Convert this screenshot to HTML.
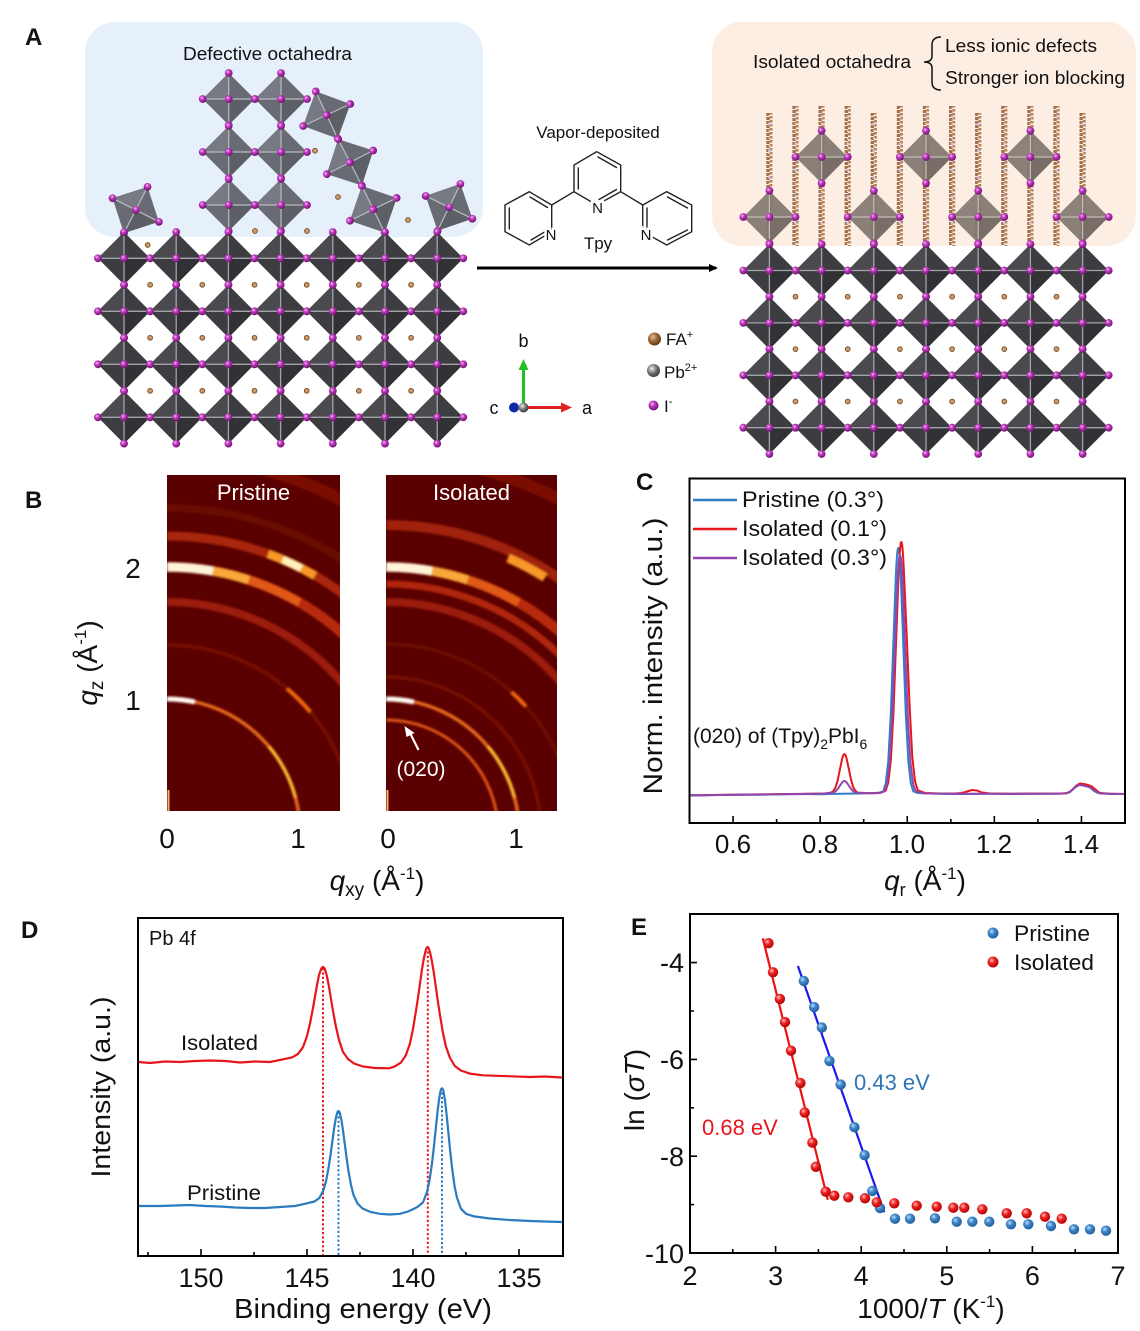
<!DOCTYPE html>
<html><head><meta charset="utf-8"><style>
html,body{margin:0;padding:0;background:#fff}
svg{display:block}
text{font-family:"Liberation Sans",Arial,sans-serif;fill:#111}
</style></head><body>
<svg width="1140" height="1331" viewBox="0 0 1140 1331" xmlns="http://www.w3.org/2000/svg" xmlns:xlink="http://www.w3.org/1999/xlink">
<defs>
<radialGradient id="gI" cx="0.38" cy="0.35" r="0.7"><stop offset="0" stop-color="#f4c0f4"/><stop offset="0.35" stop-color="#c23ec2"/><stop offset="1" stop-color="#6a0b6a"/></radialGradient>
<radialGradient id="gB" cx="0.38" cy="0.35" r="0.7"><stop offset="0" stop-color="#b8dcff"/><stop offset="0.4" stop-color="#3f86c8"/><stop offset="1" stop-color="#1d5a96"/></radialGradient>
<radialGradient id="gR" cx="0.38" cy="0.35" r="0.7"><stop offset="0" stop-color="#ffc0c0"/><stop offset="0.4" stop-color="#ee2222"/><stop offset="1" stop-color="#a80000"/></radialGradient>
<radialGradient id="gFA" cx="0.38" cy="0.35" r="0.7"><stop offset="0" stop-color="#e8c09a"/><stop offset="0.5" stop-color="#9a6232"/><stop offset="1" stop-color="#5a3410"/></radialGradient>
<radialGradient id="gPb" cx="0.38" cy="0.35" r="0.7"><stop offset="0" stop-color="#eeeeee"/><stop offset="0.5" stop-color="#777"/><stop offset="1" stop-color="#333"/></radialGradient>
<g id="at"><circle r="3.9" fill="url(#gI)"/></g>
<g id="fa"><circle r="2.4" fill="#c9996c" stroke="#7a4a20" stroke-width="0.9"/></g>
<g id="oct">
<polygon points="0,-26.3 26.1,0 0,26.3 -26.1,0" fill="#3d3d41"/>
<polygon points="0,-26.3 -26.1,0 0,0" fill="#4a4a4f"/>
<polygon points="0,26.3 26.1,0 0,0" fill="#323236"/>
<path d="M-26.1,0H26.1M0,-26.3V26.3" stroke="#a3a3aa" stroke-width="1.3"/>
<use xlink:href="#at" x="0" y="-26.3"/><use xlink:href="#at" x="0" y="26.3"/><use xlink:href="#at" x="-26.1" y="0"/><use xlink:href="#at" x="26.1" y="0"/><use xlink:href="#at" x="0" y="0"/>
</g>
<g id="octD">
<polygon points="0,-26 26,0 0,26 -26,0" fill="#686b73"/>
<polygon points="0,-26 -26,0 0,0" fill="#777a82"/>
<polygon points="0,26 26,0 0,0" fill="#5c5f66"/>
<path d="M-26,0H26M0,-26V26" stroke="#b8bbc3" stroke-width="1.2"/>
<use xlink:href="#at" x="0" y="-26"/><use xlink:href="#at" x="0" y="26"/><use xlink:href="#at" x="-26" y="0"/><use xlink:href="#at" x="26" y="0"/><use xlink:href="#at" x="0" y="0"/>
</g>
<g id="octI">
<polygon points="0,-26.2 26.1,0 0,26.2 -26.1,0" fill="#81776f" fill-opacity="0.93"/>
<polygon points="0,-26.2 -26.1,0 0,0" fill="#8d837b" fill-opacity="0.9"/>
<polygon points="0,26.2 26.1,0 0,0" fill="#766c65" fill-opacity="0.9"/>
<path d="M-26.1,0H26.1M0,-26.2V26.2" stroke="#c4bcb6" stroke-width="1.2"/>
<use xlink:href="#at" x="0" y="-26.2"/><use xlink:href="#at" x="0" y="26.2"/><use xlink:href="#at" x="-26.1" y="0"/><use xlink:href="#at" x="26.1" y="0"/><use xlink:href="#at" x="0" y="0"/>
</g>
<g id="ch">
<line x1="-1.4" y1="0" x2="-1.4" y2="140" stroke="#a3704a" stroke-width="3.4" stroke-dasharray="3 1"/>
<line x1="1.6" y1="0" x2="1.6" y2="140" stroke="#b5835c" stroke-width="3" stroke-dasharray="2.5 1.5" stroke-dashoffset="1"/>
<line x1="0" y1="2" x2="0" y2="140" stroke="#f2d8cc" stroke-width="1.5" stroke-dasharray="1.5 6"/>
<line x1="0" y1="10" x2="0" y2="140" stroke="#c9c4dc" stroke-width="2.6" stroke-dasharray="2.5 24"/>
</g>
<clipPath id="cpCh"><rect x="700" y="90" width="430" height="156"/></clipPath>
<clipPath id="cpP"><rect x="167" y="475" width="173" height="336"/></clipPath>
<clipPath id="cpI"><rect x="386" y="475" width="171" height="336"/></clipPath>
<filter id="soft" x="-5%" y="-5%" width="110%" height="110%"><feGaussianBlur stdDeviation="1"/></filter>
<marker id="ah" markerWidth="10" markerHeight="10" refX="7" refY="5" orient="auto" markerUnits="userSpaceOnUse"><path d="M0,1 L9,5 L0,9 Z" fill="#000"/></marker>
</defs>

<!-- ================= PANEL A ================= -->
<text x="25" y="45" font-size="24" font-weight="bold">A</text>
<rect x="85" y="22" width="398" height="215" rx="30" fill="#e6f0fa"/>
<text x="267.5" y="60" font-size="18" text-anchor="middle" textLength="169" lengthAdjust="spacingAndGlyphs">Defective octahedra</text>

<use xlink:href="#octD" x="228.7" y="99"/><use xlink:href="#octD" x="281" y="99"/>
<use xlink:href="#octD" x="228.7" y="152"/><use xlink:href="#octD" x="281" y="152"/>
<use xlink:href="#octD" x="228.7" y="205"/><use xlink:href="#octD" x="281" y="205"/>
<use xlink:href="#octD" transform="translate(326.7,115) rotate(-25)"/>
<use xlink:href="#octD" transform="translate(350,162.3) rotate(-27)"/>
<use xlink:href="#octD" transform="translate(373.3,209.3) rotate(-26)"/>
<use xlink:href="#octD" transform="translate(135.7,210) rotate(27)"/>
<use xlink:href="#octD" transform="translate(449,207.3) rotate(26)"/>
<use xlink:href="#fa" x="315" y="150.7"/><use xlink:href="#fa" x="338" y="197"/><use xlink:href="#fa" x="408" y="220"/><use xlink:href="#fa" x="255" y="231"/><use xlink:href="#fa" x="307" y="231"/><use xlink:href="#fa" x="147.7" y="245"/>

<g>
<use xlink:href="#oct" x="124" y="258.3"/><use xlink:href="#oct" x="176.2" y="258.3"/><use xlink:href="#oct" x="228.4" y="258.3"/><use xlink:href="#oct" x="280.6" y="258.3"/><use xlink:href="#oct" x="332.8" y="258.3"/><use xlink:href="#oct" x="385" y="258.3"/><use xlink:href="#oct" x="437.2" y="258.3"/>
<use xlink:href="#oct" x="124" y="311.3"/><use xlink:href="#oct" x="176.2" y="311.3"/><use xlink:href="#oct" x="228.4" y="311.3"/><use xlink:href="#oct" x="280.6" y="311.3"/><use xlink:href="#oct" x="332.8" y="311.3"/><use xlink:href="#oct" x="385" y="311.3"/><use xlink:href="#oct" x="437.2" y="311.3"/>
<use xlink:href="#oct" x="124" y="364.3"/><use xlink:href="#oct" x="176.2" y="364.3"/><use xlink:href="#oct" x="228.4" y="364.3"/><use xlink:href="#oct" x="280.6" y="364.3"/><use xlink:href="#oct" x="332.8" y="364.3"/><use xlink:href="#oct" x="385" y="364.3"/><use xlink:href="#oct" x="437.2" y="364.3"/>
<use xlink:href="#oct" x="124" y="417.3"/><use xlink:href="#oct" x="176.2" y="417.3"/><use xlink:href="#oct" x="228.4" y="417.3"/><use xlink:href="#oct" x="280.6" y="417.3"/><use xlink:href="#oct" x="332.8" y="417.3"/><use xlink:href="#oct" x="385" y="417.3"/><use xlink:href="#oct" x="437.2" y="417.3"/>
<use xlink:href="#fa" x="150.1" y="284.8"/><use xlink:href="#fa" x="202.3" y="284.8"/><use xlink:href="#fa" x="254.5" y="284.8"/><use xlink:href="#fa" x="306.7" y="284.8"/><use xlink:href="#fa" x="358.9" y="284.8"/><use xlink:href="#fa" x="411.1" y="284.8"/>
<use xlink:href="#fa" x="150.1" y="337.8"/><use xlink:href="#fa" x="202.3" y="337.8"/><use xlink:href="#fa" x="254.5" y="337.8"/><use xlink:href="#fa" x="306.7" y="337.8"/><use xlink:href="#fa" x="358.9" y="337.8"/><use xlink:href="#fa" x="411.1" y="337.8"/>
<use xlink:href="#fa" x="150.1" y="390.8"/><use xlink:href="#fa" x="202.3" y="390.8"/><use xlink:href="#fa" x="254.5" y="390.8"/><use xlink:href="#fa" x="306.7" y="390.8"/><use xlink:href="#fa" x="358.9" y="390.8"/><use xlink:href="#fa" x="411.1" y="390.8"/>
</g>

<line x1="477" y1="268" x2="716" y2="268" stroke="#000" stroke-width="3" marker-end="url(#ah)"/>
<text x="598" y="138" font-size="17" text-anchor="middle">Vapor-deposited</text>
<g stroke="#222" stroke-width="1.4" fill="none" stroke-linecap="round">
<path d="M596.7,151.7 L620.7,165 L620.7,191.7 L596.7,205 L574,191.7 L574,165 Z"/>
<path d="M598,157 L616.5,167.5 M578.3,168 L578.3,189 M616.5,189.5 L599,199.5"/>
<path d="M574,191.7 L551.7,205"/>
<path d="M529.3,191.7 L551.7,205 L551.7,231.7 L529.3,245 L505,231.7 L505,205 Z"/>
<path d="M530,197 L547.5,207.5 M509.3,208 L509.3,229 M531,240 L548,230"/>
<path d="M620.7,191.7 L642.7,205"/>
<path d="M642.7,205 L666.7,191.7 L691.7,205 L691.7,231.7 L666.7,245 L642.7,231.7 Z"/>
<path d="M667.5,197 L687.5,208 M687.5,230 L667.5,240 M647,208 L647,229"/>
</g>
<g font-size="15" text-anchor="middle" stroke="#fff" stroke-width="5" paint-order="stroke">
<text x="597.5" y="213">N</text><text x="551" y="240">N</text><text x="646" y="240">N</text>
</g>
<text x="598" y="249" font-size="17" text-anchor="middle">Tpy</text>

<line x1="523.5" y1="406" x2="523.5" y2="368" stroke="#22c022" stroke-width="3"/>
<path d="M518.5,370 L523.5,359 L528.5,370 Z" fill="#22c022"/>
<line x1="523.5" y1="407.5" x2="563" y2="407.5" stroke="#e02020" stroke-width="3"/>
<path d="M561,402.5 L572,407.5 L561,412.5 Z" fill="#e02020"/>
<circle cx="514" cy="407.5" r="5" fill="#1028a8"/>
<circle cx="523.5" cy="407.5" r="5" fill="url(#gPb)"/>
<text x="523.5" y="347" font-size="18" text-anchor="middle">b</text>
<text x="494" y="414" font-size="18" text-anchor="middle">c</text>
<text x="587" y="414" font-size="18" text-anchor="middle">a</text>
<circle cx="654.5" cy="339" r="6.5" fill="url(#gFA)"/>
<circle cx="653.5" cy="370.5" r="6.5" fill="url(#gPb)"/>
<circle cx="653.5" cy="405.5" r="5" fill="url(#gI)"/>
<text x="666" y="345" font-size="17">FA<tspan font-size="11" dy="-7">+</tspan></text>
<text x="664" y="378" font-size="17">Pb<tspan font-size="11" dy="-7">2+</tspan></text>
<text x="664" y="412" font-size="17">I<tspan font-size="11" dy="-7">-</tspan></text>

<rect x="712" y="22" width="424" height="224" rx="30" fill="#fdeee3"/>
<text x="753" y="68" font-size="18" textLength="158" lengthAdjust="spacingAndGlyphs">Isolated octahedra</text>
<path d="M941,37 Q932,37 932,45 V56 Q932,62 924,62 Q932,62 932,68 V82 Q932,90 941,90" fill="none" stroke="#111" stroke-width="1.5"/>
<text x="945" y="52" font-size="18" textLength="152" lengthAdjust="spacingAndGlyphs">Less ionic defects</text>
<text x="945" y="84" font-size="18" textLength="180" lengthAdjust="spacingAndGlyphs">Stronger ion blocking</text>
<g clip-path="url(#cpCh)">
<use xlink:href="#ch" x="769.4" y="113"/><use xlink:href="#ch" x="795.5" y="106"/><use xlink:href="#ch" x="821.6" y="106"/><use xlink:href="#ch" x="847.7" y="106"/><use xlink:href="#ch" x="873.8" y="113"/><use xlink:href="#ch" x="899.9" y="106"/><use xlink:href="#ch" x="926" y="106"/><use xlink:href="#ch" x="952.1" y="106"/><use xlink:href="#ch" x="978.2" y="113"/><use xlink:href="#ch" x="1004.3" y="106"/><use xlink:href="#ch" x="1030.4" y="106"/><use xlink:href="#ch" x="1056.5" y="106"/><use xlink:href="#ch" x="1082.6" y="113"/>
</g>
<use xlink:href="#octI" x="821.6" y="157"/><use xlink:href="#octI" x="926" y="157"/><use xlink:href="#octI" x="1030.4" y="157"/>
<use xlink:href="#octI" x="769.4" y="217"/><use xlink:href="#octI" x="873.8" y="217"/><use xlink:href="#octI" x="978.2" y="217"/><use xlink:href="#octI" x="1082.6" y="217"/>
<g>
<use xlink:href="#oct" x="769.4" y="270.5"/><use xlink:href="#oct" x="821.6" y="270.5"/><use xlink:href="#oct" x="873.8" y="270.5"/><use xlink:href="#oct" x="926" y="270.5"/><use xlink:href="#oct" x="978.2" y="270.5"/><use xlink:href="#oct" x="1030.4" y="270.5"/><use xlink:href="#oct" x="1082.6" y="270.5"/>
<use xlink:href="#oct" x="769.4" y="322.9"/><use xlink:href="#oct" x="821.6" y="322.9"/><use xlink:href="#oct" x="873.8" y="322.9"/><use xlink:href="#oct" x="926" y="322.9"/><use xlink:href="#oct" x="978.2" y="322.9"/><use xlink:href="#oct" x="1030.4" y="322.9"/><use xlink:href="#oct" x="1082.6" y="322.9"/>
<use xlink:href="#oct" x="769.4" y="375.3"/><use xlink:href="#oct" x="821.6" y="375.3"/><use xlink:href="#oct" x="873.8" y="375.3"/><use xlink:href="#oct" x="926" y="375.3"/><use xlink:href="#oct" x="978.2" y="375.3"/><use xlink:href="#oct" x="1030.4" y="375.3"/><use xlink:href="#oct" x="1082.6" y="375.3"/>
<use xlink:href="#oct" x="769.4" y="427.7"/><use xlink:href="#oct" x="821.6" y="427.7"/><use xlink:href="#oct" x="873.8" y="427.7"/><use xlink:href="#oct" x="926" y="427.7"/><use xlink:href="#oct" x="978.2" y="427.7"/><use xlink:href="#oct" x="1030.4" y="427.7"/><use xlink:href="#oct" x="1082.6" y="427.7"/>
<use xlink:href="#fa" x="795.5" y="296.7"/><use xlink:href="#fa" x="847.7" y="296.7"/><use xlink:href="#fa" x="899.9" y="296.7"/><use xlink:href="#fa" x="952.1" y="296.7"/><use xlink:href="#fa" x="1004.3" y="296.7"/><use xlink:href="#fa" x="1056.5" y="296.7"/>
<use xlink:href="#fa" x="795.5" y="349.1"/><use xlink:href="#fa" x="847.7" y="349.1"/><use xlink:href="#fa" x="899.9" y="349.1"/><use xlink:href="#fa" x="952.1" y="349.1"/><use xlink:href="#fa" x="1004.3" y="349.1"/><use xlink:href="#fa" x="1056.5" y="349.1"/>
<use xlink:href="#fa" x="795.5" y="401.5"/><use xlink:href="#fa" x="847.7" y="401.5"/><use xlink:href="#fa" x="899.9" y="401.5"/><use xlink:href="#fa" x="952.1" y="401.5"/><use xlink:href="#fa" x="1004.3" y="401.5"/><use xlink:href="#fa" x="1056.5" y="401.5"/>
</g>

<!-- ================= PANEL B ================= -->
<text x="25" y="508" font-size="24" font-weight="bold">B</text>
<rect x="167" y="475" width="173" height="336" fill="#5a0000"/>
<rect x="386" y="475" width="171" height="336" fill="#5a0000"/>
<g clip-path="url(#cpP)" fill="none"><g filter="url(#soft)">
<path d="M167,457 A375,375 0 0 1 542,832" stroke="#7a1006" stroke-width="12"/>
<path d="M167,508 A324,324 0 0 1 491,832" stroke="#680804" stroke-width="8"/>
<path d="M167,536 A296,296 0 0 1 463,832" stroke="#a82608" stroke-width="9"/>
<path d="M167,567 A265,265 0 0 1 432,832" stroke="#b82a0a" stroke-width="10"/>
<path d="M167,602 A230,230 0 0 1 397,832" stroke="#9c1e08" stroke-width="8"/>
<path d="M167,645 A187,187 0 0 1 354,832" stroke="#741005" stroke-width="4"/>
<path d="M167,699 A133,133 0 0 1 300,832" stroke="#e86a1c" stroke-width="3.5"/>
<path d="M248.9,580 A265,265 0 0 1 299.5,602.5" stroke="#e05a14" stroke-width="9"/>
<path d="M213,571 A265,265 0 0 1 248.9,580" stroke="#f8a838" stroke-width="9"/>
<path d="M167,567 A265,265 0 0 1 213,571" stroke="#fff4d8" stroke-width="9"/>
<path d="M268.2,553.8 A296,296 0 0 1 315,575.7" stroke="#f89828" stroke-width="9"/>
<path d="M282.6,559.5 A296,296 0 0 1 301.4,568.3" stroke="#fff0b8" stroke-width="8"/>
<path d="M287.2,688.8 A187,187 0 0 1 310.2,711.8" stroke="#f06810" stroke-width="4"/>
<path d="M268.9,746.5 A133,133 0 0 1 295.5,797.6" stroke="#ffb830" stroke-width="3.5"/>
<path d="M167,699 A133,133 0 0 1 194.7,701.9" stroke="#fffaf0" stroke-width="5"/>
</g>
<line x1="168.5" y1="790" x2="168.5" y2="811" stroke="#ffb060" stroke-width="2"/>
</g>
<g clip-path="url(#cpI)" fill="none"><g filter="url(#soft)">
<path d="M386,457 A375,375 0 0 1 761,832" stroke="#7a1006" stroke-width="12"/>
<path d="M386,525 A307,307 0 0 1 693,832" stroke="#a02408" stroke-width="10"/>
<path d="M386,567 A265,265 0 0 1 651,832" stroke="#b82a0a" stroke-width="10"/>
<path d="M386,584 A248,248 0 0 1 634,832" stroke="#b02808" stroke-width="7"/>
<path d="M386,602 A230,230 0 0 1 616,832" stroke="#9c1e08" stroke-width="8"/>
<path d="M386,644 A188,188 0 0 1 574,832" stroke="#6c0c04" stroke-width="4"/>
<path d="M386,677 A155,155 0 0 1 541,832" stroke="#741005" stroke-width="4"/>
<path d="M386,699 A133,133 0 0 1 519,832" stroke="#e86a1c" stroke-width="3.5"/>
<path d="M386,720 A112,112 0 0 1 498,832" stroke="#e05418" stroke-width="3"/>
<path d="M467.9,580 A265,265 0 0 1 518.5,602.5" stroke="#e05a14" stroke-width="9"/>
<path d="M432,571 A265,265 0 0 1 467.9,580" stroke="#f8a838" stroke-width="9"/>
<path d="M386,567 A265,265 0 0 1 432,571" stroke="#fff4d8" stroke-width="9"/>
<path d="M508,558 A300,300 0 0 1 545,577.6" stroke="#f89828" stroke-width="9"/>
<path d="M511.8,692.3 A188,188 0 0 1 525.7,706.2" stroke="#f06810" stroke-width="4"/>
<path d="M487.9,746.5 A133,133 0 0 1 514.5,797.6" stroke="#ffb830" stroke-width="3.5"/>
<path d="M386,699 A133,133 0 0 1 413.7,701.9" stroke="#fffaf0" stroke-width="5"/>
</g>
<line x1="387.5" y1="790" x2="387.5" y2="811" stroke="#ffb060" stroke-width="2"/>
</g>
<text x="253.5" y="500" font-size="22" text-anchor="middle" style="fill:#fff">Pristine</text>
<text x="471.5" y="500" font-size="22" text-anchor="middle" style="fill:#fff">Isolated</text>
<line x1="418.5" y1="750" x2="410" y2="733" stroke="#fff" stroke-width="2.2"/>
<path d="M404.5,726 L414.5,733 L406.5,737 Z" fill="#fff"/>
<text x="421" y="776" font-size="21" text-anchor="middle" style="fill:#fff">(020)</text>
<text x="133" y="578" font-size="28" text-anchor="middle">2</text>
<text x="133" y="710" font-size="28" text-anchor="middle">1</text>
<text x="167" y="848" font-size="28" text-anchor="middle">0</text>
<text x="298" y="848" font-size="28" text-anchor="middle">1</text>
<text x="388" y="848" font-size="28" text-anchor="middle">0</text>
<text x="516" y="848" font-size="28" text-anchor="middle">1</text>
<text transform="translate(97,663) rotate(-90)" font-size="28" text-anchor="middle"><tspan font-style="italic">q</tspan><tspan font-size="19" dy="6">z</tspan><tspan dy="-6"> (Å</tspan><tspan font-size="17" dy="-11">-1</tspan><tspan dy="11">)</tspan></text>
<text x="377" y="890" font-size="28" text-anchor="middle"><tspan font-style="italic">q</tspan><tspan font-size="19" dy="6">xy</tspan><tspan dy="-6"> (Å</tspan><tspan font-size="17" dy="-11">-1</tspan><tspan dy="11">)</tspan></text>

<!-- ================= PANEL C ================= -->
<text x="636" y="490" font-size="24" font-weight="bold">C</text>
<g fill="none" stroke-width="2" stroke-linejoin="round">
<path stroke="#2f7fc5" d="M689.5,795 L700,795.3 L720,795 L740,794.6 L760,794.8 L780,794.3 L800,794 L820,794.2 L840,793.8 L860,793.5 L875,793 L880,792.5 L883.3,791.3 L885.8,783.2 L888.3,760.7 L890.8,714.1 L893.3,644.8 L895.8,576.9 Q898.3,519.1 900.8,576.9 L903.3,644.8 L905.8,714.1 L908.3,760.7 L910.8,783.2 L913.3,791.3 L918,793 L930,793.5 L950,794 L970,794 L990,793.8 L1010,794 L1030,793.6 L1050,793.8 L1065,793.5 L1070,792 L1074,788 L1078,784.5 L1082,785 L1086,786 L1090,787.5 L1094,791 L1098,793 L1110,794 L1124,794"/>
<path stroke="#e8151b" d="M689.5,795.5 L710,795 L730,794.8 L750,794.5 L770,794.2 L790,794 L810,793.8 L825,793.5 L830.9,792.6 L833.2,791.3 L835.4,787.7 L837.7,780.3 L839.9,769.3 L842.2,758.6 Q844.4,749.4 846.6,758.6 L848.9,769.3 L851.2,780.3 L853.4,787.7 L855.7,791.3 L857.9,792.6 L870,793.2 L880,793 L885.7,790.7 L888.3,782.5 L890.9,759.5 L893.5,711.8 L896.1,641 L898.7,571.6 Q901.3,512.4 903.9,571.6 L906.8,638 L909.6,706 L912.3,757 L915,781 L917.8,790.5 L925,793 L940,793.5 L955,793.5 L962,793 L967,791.5 L972,790 L977,790.5 L982,792.5 L990,793.5 L1010,793.8 L1040,793.6 L1060,793.6 L1068,793 L1072,790 L1076,786 L1080,783.5 L1084,784 L1088,785 L1092,786.5 L1096,790 L1100,793 L1110,793.8 L1124,794"/>
<path stroke="#9146b0" d="M689.5,795.5 L720,795 L760,794.5 L800,794 L825,793.5 L830.9,792.9 L833.2,792.5 L835.4,791.4 L837.7,789.1 L839.9,785.7 L842.2,782.4 Q844.4,779.6 846.6,782.4 L848.9,785.7 L851.2,789.1 L853.4,791.4 L855.7,792.5 L857.9,792.9 L870,793.2 L880,793 L884.4,791.3 L887,783.5 L889.6,761.7 L892.2,716.4 L894.8,649 L897.4,583.1 Q900,526.9 902.6,583.1 L905.2,649 L907.8,716.4 L910.4,761.7 L913,783.5 L915.6,791.3 L925,793.5 L960,793.8 L1000,793.8 L1040,793.8 L1066,793.5 L1071,791 L1075,787.5 L1079,785 L1083,785.5 L1087,786.5 L1091,788 L1095,791 L1100,793.5 L1124,794"/>
</g>
<rect x="689.5" y="478.5" width="435.5" height="344.5" fill="none" stroke="#000" stroke-width="2"/>
<g stroke="#000" stroke-width="1.6">
<path d="M733.05,823 v-7 M820.15,823 v-7 M907.25,823 v-7 M994.35,823 v-7 M1081.45,823 v-7"/>
<path d="M776.6,823 v-4 M863.7,823 v-4 M950.8,823 v-4 M1037.9,823 v-4"/>
</g>
<g font-size="26" text-anchor="middle">
<text x="733" y="853">0.6</text><text x="820" y="853">0.8</text><text x="907" y="853">1.0</text><text x="994" y="853">1.2</text><text x="1081" y="853">1.4</text>
</g>
<line x1="693" y1="500" x2="737" y2="500" stroke="#2f7fc5" stroke-width="2.5"/>
<line x1="693" y1="529" x2="737" y2="529" stroke="#e8151b" stroke-width="2.5"/>
<line x1="693" y1="558" x2="737" y2="558" stroke="#9146b0" stroke-width="2.5"/>
<text x="742" y="507" font-size="22" textLength="142" lengthAdjust="spacingAndGlyphs">Pristine (0.3°)</text>
<text x="742" y="536" font-size="22" textLength="145" lengthAdjust="spacingAndGlyphs">Isolated (0.1°)</text>
<text x="742" y="565" font-size="22" textLength="145" lengthAdjust="spacingAndGlyphs">Isolated (0.3°)</text>
<text x="693" y="743" font-size="21">(020) of (Tpy)<tspan font-size="14" dy="6">2</tspan><tspan dy="-6">PbI</tspan><tspan font-size="14" dy="6">6</tspan></text>
<text transform="translate(662,656) rotate(-90)" font-size="27" text-anchor="middle" textLength="277" lengthAdjust="spacingAndGlyphs">Norm. intensity (a.u.)</text>
<text x="925" y="890" font-size="28" text-anchor="middle"><tspan font-style="italic">q</tspan><tspan font-size="18" dy="6">r</tspan><tspan dy="-6"> (Å</tspan><tspan font-size="17" dy="-11">-1</tspan><tspan dy="11">)</tspan></text>

<!-- ================= PANEL D ================= -->
<text x="21" y="938" font-size="24" font-weight="bold">D</text>
<g stroke-width="2" stroke-dasharray="2.2 2.2">
<line x1="323" y1="968" x2="323" y2="1256" stroke="#e8151b"/>
<line x1="427.8" y1="947" x2="427.8" y2="1256" stroke="#e8151b"/>
<line x1="338.5" y1="1112" x2="338.5" y2="1256" stroke="#2b7bc0"/>
<line x1="442" y1="1088" x2="442" y2="1256" stroke="#2b7bc0"/>
</g>
<g fill="none" stroke-width="2.2" stroke-linejoin="round">
<path stroke="#e8151b" d="M138.5,1062 L150,1063 L165,1061.5 L180,1062 L195,1061 L210,1060.5 L225,1061 L240,1062.5 L255,1061.5 L270,1062 L283,1059.3 L292,1057.4 L298,1054 L303,1047.2 L307,1036 L310,1023.6 L313,1008 L315,996.5 L317,985 L319,975 L321,969.4 Q323,964.6 325,969.4 L327,976.5 L329,987 L331,999 L333,1011 L336,1027 L339,1040 L343,1052 L348,1059 L354,1063.5 L363,1066.5 L375,1068 L389,1068.3 L394.8,1066.4 L400.8,1062.7 L405.8,1055.4 L409.8,1044 L412.8,1030 L415.8,1012 L417.8,999 L419.8,985 L421.8,970.6 L423.8,958.5 L425.8,950 Q427.8,943.5 429.8,951.5 L431.8,960.5 L433.8,972.6 L435.8,986.5 L437.8,1001 L439.8,1014 L442.8,1032 L445.8,1046 L449.8,1057.5 L454.8,1066 L460.8,1070.5 L469.8,1073.6 L482.8,1075.3 L507.8,1076.2 L530,1077 L545,1076.5 L562,1077.5"/>
<path stroke="#2b7bc0" d="M138.5,1206 L160,1206 L175,1205.5 L190,1205 L205,1206 L220,1206.5 L235,1207.5 L250,1208 L265,1208 L280,1207 L295,1206 L306.5,1203.4 L314.5,1201.5 L319.5,1197.9 L323.5,1190 L326,1181.3 L328.5,1168.2 L330.5,1155 L332.5,1140.3 L334,1129.3 L335.5,1119.9 L337,1113.4 Q338.5,1108.6 340,1113.5 L341.5,1120.4 L343,1130.3 L344.5,1141.8 L346.5,1157.3 L348.5,1171.2 L351,1185 L353.5,1195 L357.5,1203.5 L362.5,1208.5 L370.5,1212 L380,1213.8 L390,1214.5 L400,1213.8 L408,1211.5 L414,1208.8 L418,1206.5 L423,1202.4 L427,1192 L429.5,1180.5 L432,1163.3 L434,1145.9 L436,1126.5 L437.5,1112 L439,1099.7 L440.5,1091 Q442,1085.5 443.5,1091.3 L445,1100.4 L446.5,1113.5 L448,1128.7 L450,1149.1 L452,1167.5 L454.5,1185.7 L457,1197.8 L461,1208.8 L466,1213.8 L474,1216.4 L490,1218.5 L510,1220 L530,1221 L545,1221.5 L562,1222"/>
</g>
<rect x="138" y="918" width="425" height="338" fill="none" stroke="#000" stroke-width="2"/>
<g stroke="#000" stroke-width="1.6">
<path d="M201,1256 v-7 M307,1256 v-7 M413,1256 v-7 M519,1256 v-7"/>
<path d="M148,1256 v-4 M254,1256 v-4 M360,1256 v-4 M466,1256 v-4"/>
</g>
<g font-size="27" text-anchor="middle">
<text x="201" y="1287">150</text><text x="307" y="1287">145</text><text x="413" y="1287">140</text><text x="519" y="1287">135</text>
</g>
<text x="149" y="945" font-size="20">Pb 4f</text>
<text x="181" y="1050" font-size="21" textLength="77" lengthAdjust="spacingAndGlyphs">Isolated</text>
<text x="187" y="1200" font-size="21" textLength="74" lengthAdjust="spacingAndGlyphs">Pristine</text>
<text transform="translate(110,1087) rotate(-90)" font-size="27" text-anchor="middle" textLength="181" lengthAdjust="spacingAndGlyphs">Intensity (a.u.)</text>
<text x="363" y="1318" font-size="28" text-anchor="middle" textLength="258" lengthAdjust="spacingAndGlyphs">Binding energy (eV)</text>

<!-- ================= PANEL E ================= -->
<text x="631" y="935" font-size="24" font-weight="bold">E</text>
<line x1="762.8" y1="938.4" x2="827.8" y2="1199.8" stroke="#ee1111" stroke-width="2.2"/>
<line x1="797.9" y1="966" x2="884.3" y2="1212.3" stroke="#1a1aee" stroke-width="2.2"/>
<g>
<circle cx="872.3" cy="1191" r="5.2" fill="url(#gB)"/>
<circle cx="880" cy="1208" r="5.2" fill="url(#gB)"/>
<circle cx="803.8" cy="981" r="5.2" fill="url(#gB)"/>
<circle cx="814.1" cy="1007.1" r="5.2" fill="url(#gB)"/>
<circle cx="821.8" cy="1027.5" r="5.2" fill="url(#gB)"/>
<circle cx="829.5" cy="1060.9" r="5.2" fill="url(#gB)"/>
<circle cx="840.7" cy="1084.6" r="5.2" fill="url(#gB)"/>
<circle cx="854.4" cy="1127.2" r="5.2" fill="url(#gB)"/>
<circle cx="864.6" cy="1155.2" r="5.2" fill="url(#gB)"/>
<circle cx="895" cy="1218.7" r="5.2" fill="url(#gB)"/>
<circle cx="910" cy="1218.7" r="5.2" fill="url(#gB)"/>
<circle cx="935" cy="1218.3" r="5.2" fill="url(#gB)"/>
<circle cx="956.7" cy="1221.7" r="5.2" fill="url(#gB)"/>
<circle cx="972.3" cy="1221.7" r="5.2" fill="url(#gB)"/>
<circle cx="989.3" cy="1221.7" r="5.2" fill="url(#gB)"/>
<circle cx="1011" cy="1224.3" r="5.2" fill="url(#gB)"/>
<circle cx="1028.3" cy="1224.3" r="5.2" fill="url(#gB)"/>
<circle cx="1051" cy="1226" r="5.2" fill="url(#gB)"/>
<circle cx="1074" cy="1229.3" r="5.2" fill="url(#gB)"/>
<circle cx="1090" cy="1229.3" r="5.2" fill="url(#gB)"/>
<circle cx="1106" cy="1230.7" r="5.2" fill="url(#gB)"/>
</g>
<g>
<circle cx="768.5" cy="943.2" r="5.2" fill="url(#gR)"/>
<circle cx="773" cy="972.3" r="5.2" fill="url(#gR)"/>
<circle cx="779.9" cy="998.9" r="5.2" fill="url(#gR)"/>
<circle cx="785" cy="1022.1" r="5.2" fill="url(#gR)"/>
<circle cx="791" cy="1050.7" r="5.2" fill="url(#gR)"/>
<circle cx="800.4" cy="1083.1" r="5.2" fill="url(#gR)"/>
<circle cx="804.7" cy="1112.6" r="5.2" fill="url(#gR)"/>
<circle cx="812.4" cy="1142.6" r="5.2" fill="url(#gR)"/>
<circle cx="815.8" cy="1166.8" r="5.2" fill="url(#gR)"/>
<circle cx="825.7" cy="1191.7" r="5.2" fill="url(#gR)"/>
<circle cx="834.3" cy="1195.7" r="5.2" fill="url(#gR)"/>
<circle cx="848.3" cy="1197.3" r="5.2" fill="url(#gR)"/>
<circle cx="865" cy="1198.3" r="5.2" fill="url(#gR)"/>
<circle cx="876.7" cy="1202.3" r="5.2" fill="url(#gR)"/>
<circle cx="894.3" cy="1203.3" r="5.2" fill="url(#gR)"/>
<circle cx="916.7" cy="1205.7" r="5.2" fill="url(#gR)"/>
<circle cx="936.7" cy="1206.7" r="5.2" fill="url(#gR)"/>
<circle cx="953.3" cy="1207.7" r="5.2" fill="url(#gR)"/>
<circle cx="964.3" cy="1207.7" r="5.2" fill="url(#gR)"/>
<circle cx="982.3" cy="1209.3" r="5.2" fill="url(#gR)"/>
<circle cx="1006.7" cy="1213.3" r="5.2" fill="url(#gR)"/>
<circle cx="1026.7" cy="1213.3" r="5.2" fill="url(#gR)"/>
<circle cx="1045" cy="1216.7" r="5.2" fill="url(#gR)"/>
<circle cx="1061.7" cy="1218.7" r="5.2" fill="url(#gR)"/>
</g>
<rect x="690" y="914" width="428" height="339" fill="none" stroke="#000" stroke-width="2"/>
<g stroke="#000" stroke-width="1.6">
<path d="M775.6,1253 v-7 M861.2,1253 v-7 M946.8,1253 v-7 M1032.4,1253 v-7"/>
<path d="M732.8,1253 v-4 M818.4,1253 v-4 M904,1253 v-4 M989.6,1253 v-4 M1075.2,1253 v-4"/>
<path d="M690,962.6 h7 M690,1059.4 h7 M690,1156.2 h7"/>
<path d="M690,1011 h4 M690,1107.8 h4 M690,1204.6 h4"/>
</g>
<g font-size="27" text-anchor="middle">
<text x="690" y="1285">2</text><text x="775.6" y="1285">3</text><text x="861.2" y="1285">4</text><text x="946.8" y="1285">5</text><text x="1032.4" y="1285">6</text><text x="1118" y="1285">7</text>
</g>
<g font-size="27" text-anchor="end">
<text x="684" y="972">-4</text><text x="684" y="1069">-6</text><text x="684" y="1166">-8</text><text x="684" y="1263">-10</text>
</g>
<circle cx="993" cy="933" r="5.5" fill="url(#gB)"/>
<circle cx="993" cy="962" r="5.5" fill="url(#gR)"/>
<text x="1014" y="941" font-size="22" textLength="76" lengthAdjust="spacingAndGlyphs">Pristine</text>
<text x="1014" y="970" font-size="22" textLength="80" lengthAdjust="spacingAndGlyphs">Isolated</text>
<text x="854" y="1090" font-size="22" style="fill:#2e75b6">0.43 eV</text>
<text x="702" y="1135" font-size="22" style="fill:#e8151b">0.68 eV</text>
<text transform="translate(644,1090) rotate(-90)" font-size="28" text-anchor="middle">ln (<tspan font-style="italic">σT</tspan>)</text>
<text x="931" y="1318" font-size="28" text-anchor="middle">1000/<tspan font-style="italic">T</tspan> (K<tspan font-size="17" dy="-11">-1</tspan><tspan dy="11">)</tspan></text>
</svg>
</body></html>
